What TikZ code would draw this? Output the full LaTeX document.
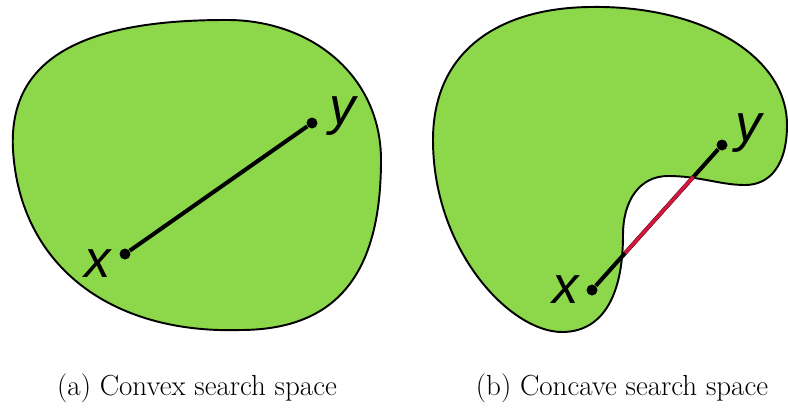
\documentclass[tikz,border=0pt]{standalone}
\usepackage{fontspec}
\usepackage{tikz}
\usetikzlibrary{calc}
\newfontfamily\lblfont{Liberation Sans}
\definecolor{spaceGreen}{HTML}{8CD84A}
\definecolor{cutRed}{HTML}{D4163C}

\begin{document}
\begin{tikzpicture}[x=0.02cm, y=-0.02cm,
  region/.style={draw=black, line width=1.1pt, fill=spaceGreen},
  seg/.style={line width=2.3pt},
  pt/.style={circle, fill=black, inner sep=0pt, minimum size=2.2mm},
  var/.style={font=\lblfont\itshape\fontsize{30}{30}\selectfont},
  captxt/.style={font=\fontsize{16.5}{20}\selectfont}]
\useasboundingbox (0,0) rectangle (788,410);
% (a) convex region
\draw[region] (13,150) .. controls (8,60) and (80,20) .. (225,20)
  .. controls (310,19) and (381,75) .. (381,160)
  .. controls (381,270) and (340,330) .. (240,330)
  .. controls (110,334) and (20,265) .. cycle;
\node[pt] (ax) at (125,254) {};
\node[pt] (ay) at (312,123) {};
\draw[seg] (ax) -- (ay);
\node[var] (axl) at (98,264) {x};
\node[var] (ayl) at (343,116) {y};
% (b) concave region
\draw[region] (433,140) .. controls (433,50) and (500,8) .. (590,7)
  .. controls (700,5) and (787,55) .. (787,125)
  .. controls (787,165) and (770,185) .. (745,185)
  .. controls (720,185) and (700,176) .. (668,176)
  .. controls (640,176) and (623,200) .. (623,235)
  .. controls (623,300) and (600,332) .. (562,332)
  .. controls (510,332) and (433,250) .. cycle;
\node[pt] (bx) at (592,290) {};
\node[pt] (by) at (722,145) {};
\coordinate (bin) at ($(bx)!0.255!(by)$);
\coordinate (bout) at ($(bx)!0.78!(by)$);
\draw[seg] (bx) -- (by);
\draw[seg, cutRed, line width=2pt] (bin) -- (bout);
\node[var] (bxl) at (566,290) {x};
\node[var] (byl) at (749,133) {y};
% captions
\node[captxt] (capa) at (197,388) {(a) Convex search space};
\node[captxt] (capb) at (622,388) {(b) Concave search space};
\end{tikzpicture}
\end{document}
